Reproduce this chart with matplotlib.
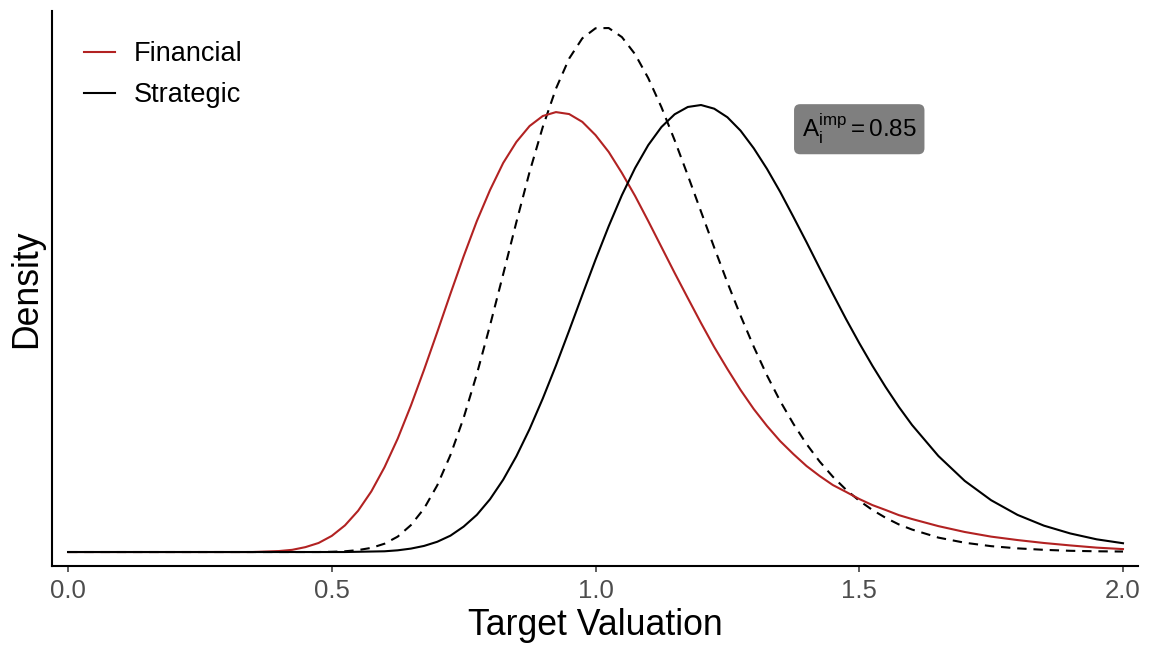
import matplotlib
matplotlib.use('Agg')
import matplotlib.pyplot as plt

plt.rcParams['font.family'] = ['Liberation Sans', 'DejaVu Sans']
plt.rcParams['mathtext.fontset'] = 'custom'
plt.rcParams['mathtext.rm'] = 'Liberation Sans'
plt.rcParams['mathtext.it'] = 'Liberation Sans'

# target valuation grid
valuation = [0.0, 0.1, 0.2, 0.3, 0.35,
             0.4, 0.425, 0.45, 0.475, 0.5, 0.525, 0.55, 0.575, 0.6, 0.625,
             0.65, 0.675, 0.7, 0.725, 0.75, 0.775, 0.8, 0.825, 0.85, 0.875,
             0.9, 0.925, 0.95, 0.975, 1.0, 1.025, 1.05, 1.075, 1.1, 1.125,
             1.15, 1.175, 1.2, 1.225, 1.25, 1.275, 1.3, 1.325, 1.35, 1.375,
             1.4, 1.425, 1.45, 1.475, 1.5, 1.525, 1.55, 1.575, 1.6,
             1.65, 1.7, 1.75, 1.8, 1.85, 1.9, 1.95, 2.0]

financial = [0.0, 0.0, 0.0, 0.0, 0.0,
             0.004, 0.009, 0.020, 0.037, 0.066, 0.109, 0.169, 0.248, 0.347, 0.464,
             0.599, 0.746, 0.900, 1.057, 1.210, 1.354, 1.481, 1.592, 1.678, 1.743,
             1.784, 1.800, 1.792, 1.760, 1.706, 1.637, 1.551, 1.457, 1.354, 1.248,
             1.142, 1.039, 0.937, 0.839, 0.749, 0.663, 0.585, 0.516, 0.454, 0.401,
             0.352, 0.311, 0.274, 0.246, 0.217, 0.192, 0.172, 0.151, 0.135,
             0.106, 0.082, 0.063, 0.049, 0.037, 0.027, 0.018, 0.012]

strategic = [0.0, 0.0, 0.0, 0.0, 0.0,
             0.0, 0.0, 0.0, 0.0, 0.0, 0.0, 0.001, 0.002, 0.003, 0.007,
             0.014, 0.025, 0.042, 0.067, 0.104, 0.152, 0.216, 0.296, 0.392, 0.503,
             0.628, 0.763, 0.906, 1.052, 1.196, 1.333, 1.460, 1.571, 1.665, 1.739,
             1.791, 1.821, 1.829, 1.814, 1.779, 1.724, 1.652, 1.568, 1.474, 1.372,
             1.268, 1.161, 1.056, 0.953, 0.855, 0.762, 0.675, 0.594, 0.520,
             0.393, 0.291, 0.212, 0.152, 0.108, 0.076, 0.052, 0.036]

combined = [0.0, 0.0, 0.0, 0.0, 0.0,
            0.0, 0.0, 0.0, 0.0, 0.001, 0.003, 0.008, 0.017, 0.034, 0.063,
            0.110, 0.178, 0.273, 0.397, 0.549, 0.728, 0.927, 1.137, 1.350, 1.555,
            1.739, 1.896, 2.019, 2.102, 2.143, 2.144, 2.107, 2.037, 1.939, 1.820,
            1.685, 1.541, 1.393, 1.246, 1.103, 0.967, 0.840, 0.723, 0.618, 0.525,
            0.442, 0.370, 0.308, 0.255, 0.210, 0.172, 0.140, 0.113, 0.092,
            0.059, 0.038, 0.024, 0.015, 0.009, 0.005, 0.003, 0.002]

xticks = [0.0, 0.5, 1.0, 1.5, 2.0]
xticklabels = ['0.0', '0.5', '1.0', '1.5', '2.0']

fig = plt.figure(figsize=(11.49, 6.48), dpi=100)
ax = fig.add_axes([0.0453, 0.1265, 0.9451, 0.8565])

ax.plot(valuation, combined, color='black', lw=1.5, ls=(0, (4.5, 3.3)),
        dash_joinstyle='round')
ax.plot(valuation, financial, color='#B22222', lw=1.5, label='Financial',
        solid_joinstyle='round')
ax.plot(valuation, strategic, color='black', lw=1.5, label='Strategic',
        solid_joinstyle='round')

ax.text(1.5, 1.73, r'$\mathrm{A_i^{imp} = 0.85}$', fontsize=17.5, ha='center', va='center',
        bbox=dict(boxstyle='round,pad=0.32,rounding_size=0.25', fc='#7F7F7F', ec='none'))

ax.set_xlim(-0.0303, 2.0284)
ax.set_ylim(-0.0573, 2.2136)

for side in ['top', 'right']:
    ax.spines[side].set_visible(False)
for side in ['left', 'bottom']:
    ax.spines[side].set_linewidth(1.5)
    ax.spines[side].set_color('black')

ax.set_xticks(xticks)
ax.set_xticklabels(xticklabels)
ax.set_yticks([])
ax.tick_params(axis='x', length=4, width=1.1, color='#333333', labelcolor='#4D4D4D',
               labelsize=18.5, pad=5)

ax.set_xlabel('Target Valuation', fontsize=25.7, labelpad=4)
ax.set_ylabel('Density', fontsize=25.7, labelpad=6)

leg = ax.legend(loc='upper left', bbox_to_anchor=(84 / 1149, 1 - 41 / 648),
                bbox_transform=fig.transFigure, frameon=False, fontsize=19.5,
                handlelength=1.15, handletextpad=0.67, labelspacing=0.57,
                borderpad=0, borderaxespad=0)

fig.savefig('out.png', dpi=100)
